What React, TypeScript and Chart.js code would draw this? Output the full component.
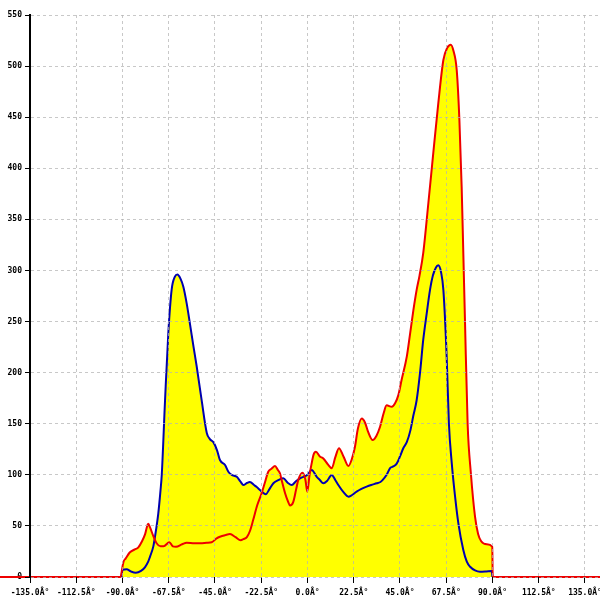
import React, { useEffect, useRef } from "react";
import { Chart, registerables } from "chart.js";

Chart.register(...registerables);

// Red series: angle (deg) and value
const redAngles = [
  -150, -135, -91, -90, -89.5, -88.5, -86.5, -84, -82.3, -80.5, -79, -77.5, -76.5, -75, -73.4, -71.5, -70,
  -67.2, -65.5, -64, -61, -58.8, -55, -52, -49, -46.6, -44.2, -42.6, -40, -37.7, -35, -32.5, -31.2, -29.5,
  -28, -26.4, -24.5, -22.3, -20.5, -19.1, -17.5, -15.8, -14.5, -13.4, -12.6, -10.9, -9.5, -8.5, -7, -5.5,
  -4.5, -2.4, -1, -0.1, 1, 2, 3, 4.1, 6, 7.7, 10, 11.8, 13.5, 15.3, 17.5, 19.9, 21.5, 23.1, 24.5, 26.4, 28,
  29.5, 31.7, 33.5, 35.3, 37, 38.5, 41, 42.6, 44.2, 45.8, 48.3, 49.9, 51.5, 53.1, 54.5, 56.3, 58.8, 61.2,
  63.6, 66.1, 68, 69.7, 71, 72.6, 73.9, 75, 75.8, 76.6, 77.9, 79.5, 81.5, 83, 84.5, 87.2, 89.9, 90.1, 135, 150,
];
const redValues = [
  0, 0, 0, 10, 15, 18, 24, 27, 29, 35, 42, 52, 48, 40, 33, 30, 30,
  34, 30, 29.6, 32, 33.6, 33, 33, 33.5, 34, 37.8, 39.4, 41, 42, 39, 36, 37, 39,
  45, 56, 70, 82, 94, 103, 106, 108.6, 105, 101.5, 95, 82, 74, 70, 73, 86,
  95, 102, 95, 83.5, 100, 111, 120, 122.6, 118, 116, 110, 106.4, 117, 126, 118, 108.6, 115, 127.5, 145, 155, 151,
  142, 134, 138, 147, 160, 168, 166.6, 170, 178, 193, 215.6, 238, 261, 281, 295, 317, 366, 415,
  463, 506, 518, 521, 515, 496, 447, 382, 317, 252, 150, 101, 59, 42, 35, 32, 29.6, 0, 0, 0,
];

// Blue series: angle (deg) and value
const blueAngles = [
  -90.5, -90, -88, -86, -83.5, -81, -79.1, -77.5, -76.6, -75, -74.2, -72.6, -71.5, -70.9, -69.3, -67.7,
  -66.1, -64.5, -63.3, -61.8, -60.4, -58.8, -57.2, -55.5, -53.9, -51.5, -49, -47.5, -45.8, -44, -42.6,
  -40.1, -38.5, -36.9, -34.4, -32.5, -31.2, -29.5, -28, -26, -24.7, -22.5, -20.3, -18.5, -16.6, -14, -11.8,
  -9.5, -7.7, -5.5, -3.6, -2, 0, 2, 4.5, 6, 7.7, 9.5, 11.8, 13.5, 15, 17.5, 19.9, 21.5, 23.9, 26, 28.8, 31,
  33.7, 35.5, 36.6, 38.5, 40.1, 41.5, 43.4, 45, 46.6, 48.3, 50, 51.5, 53.1, 54.7, 56.3, 58, 59.6, 61, 62.5,
  63.6, 65, 66.1, 67.7, 68.8, 70.2, 71.8, 73.4, 75.8, 77.5, 79.1, 81.5, 83.9, 87, 89.6, 90,
];
const blueValues = [
  0, 7, 7.5, 5.5, 4.2, 6, 9.5, 15, 20, 30, 39.4, 62, 85, 100, 173, 239,
  281, 294, 296, 292, 284, 268, 248, 226, 206, 173, 141, 135, 132, 124, 114.5,
  109.6, 103, 100, 98, 93, 90, 92, 93, 90, 88, 84, 81, 86, 91.7, 95, 96.6,
  92, 90, 94, 96.6, 98, 100, 104.7, 98, 95, 91.7, 94, 99.8, 95, 90, 83, 78.6, 80, 83.5, 86, 88.4, 90,
  91.7, 93, 95, 100, 106.4, 108, 111, 118, 126, 132, 143, 158, 173, 199, 232, 258, 281, 295, 303,
  305, 298, 281, 216, 150, 111, 78.6, 52.5, 26.4, 15, 10, 6.5, 5.2, 5.5, 5.9, 0,
];

const xTickStep = 22.5;
const yTickStep = 50;
const xMin = -135;
const xMax = 142.3;
const yMin = 0;
const yMax = 550;

const toPoints = (xs: number[], ys: number[]) => xs.map((x, i) => ({ x, y: ys[i] }));

export default function App() {
  const ref = useRef<HTMLCanvasElement | null>(null);

  useEffect(() => {
    if (!ref.current) return;
    const tickFont = { family: "'DejaVu Sans Mono', monospace", size: 8, weight: "bold" as const };
    const chart = new Chart(ref.current, {
      type: "line",
      data: {
        datasets: [
          {
            label: "red",
            data: toPoints(redAngles, redValues),
            borderColor: "#ee0000",
            borderWidth: 2,
            backgroundColor: "#ffff00",
            fill: "origin",
            pointRadius: 0,
            cubicInterpolationMode: "monotone",
            clip: false as any,
          },
          {
            label: "blue",
            data: toPoints(blueAngles, blueValues),
            borderColor: "#0000b0",
            borderWidth: 2,
            backgroundColor: "#ffff00",
            fill: "origin",
            pointRadius: 0,
            cubicInterpolationMode: "monotone",
          },
        ],
      },
      options: {
        animation: false,
        responsive: true,
        maintainAspectRatio: false,
        layout: { padding: { top: 15, left: 0, right: 0, bottom: 0 } },
        plugins: {
          legend: { display: false },
          tooltip: { enabled: false },
          filler: { drawTime: "beforeDatasetsDraw" },
        },
        scales: {
          x: {
            type: "linear",
            min: xMin,
            max: xMax,
            ticks: {
              stepSize: xTickStep,
              includeBounds: false,
              autoSkip: false,
              maxRotation: 0,
              color: "#000",
              font: tickFont,
              padding: 5,
              callback: (v: any) => Number(v).toFixed(1) + "Â°",
            },
            grid: {
              color: "rgba(179,179,179,0.72)",
              lineWidth: 1,
              tickColor: "#000",
              tickLength: 6,
              tickBorderDash: [],
              z: 1,
            },
            border: { display: false, dash: [3, 3] },
            afterFit: (s: any) => {
              s.paddingLeft = 0;
              s.paddingRight = 0;
              s.height = 23;
            },
          },
          y: {
            min: yMin,
            max: yMax,
            ticks: {
              stepSize: yTickStep,
              color: "#000",
              font: tickFont,
              padding: 3,
            },
            grid: {
              color: "rgba(179,179,179,0.72)",
              lineWidth: 1,
              tickColor: "#000",
              tickLength: 5,
              tickBorderDash: [],
              z: 1,
            },
            border: { display: true, color: "#000", width: 2, dash: [3, 3], z: 2 },
            afterFit: (s: any) => {
              s.paddingTop = 0;
              s.paddingBottom = 0;
              s.width = 30;
            },
          },
        },
      },
    });
    return () => chart.destroy();
  }, []);

  return (
    <div style={{ position: "fixed", left: 0, top: 0, width: 600, height: 600, background: "#fff" }}>
      <canvas ref={ref} />
    </div>
  );
}
